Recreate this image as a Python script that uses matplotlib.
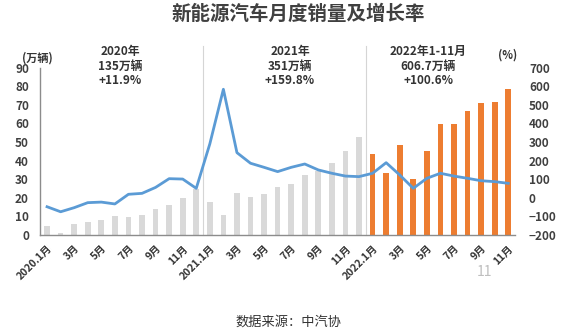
import matplotlib
matplotlib.use("Agg")
import matplotlib.pyplot as plt
import numpy as np

plt.rcParams['font.family'] = ['Noto Sans CJK SC', 'DejaVu Sans']

months = ["2020.1月", "2月", "3月", "4月", "5月", "6月", "7月", "8月", "9月", "10月", "11月", "12月",
          "2021.1月", "2月", "3月", "4月", "5月", "6月", "7月", "8月", "9月", "10月", "11月", "12月",
          "2022.1月", "2月", "3月", "4月", "5月", "6月", "7月", "8月", "9月", "10月", "11月"]
sales = [5.0, 1.0, 6.0, 7.2, 8.2, 10.4, 9.8, 10.9, 14.0, 16.1, 20.0, 24.5,
         17.6, 10.8, 22.7, 20.6, 21.8, 25.6, 27.2, 32.2, 34.5, 38.5, 45.2, 52.9,
         43.4, 33.5, 48.6, 30.2, 45.1, 59.8, 59.8, 66.8, 71.0, 71.6, 78.7]
growth = [-48, -75, -53, -26, -23, -33, 19, 24, 56, 103, 101, 51,
          290, 584, 243, 186, 164, 141, 164, 182, 150, 132, 117, 114,
          132, 189, 123, 51, 105, 132, 117, 105, 92, 87, 78]
year_notes = ["2020年\n135万辆\n+11.9%", "2021年\n351万辆\n+159.8%", "2022年1-11月\n606.7万辆\n+100.6%"]
title = "新能源汽车月度销量及增长率"
source = "数据来源：中汽协"

W, H = 565, 330
fig = plt.figure(figsize=(W / 100, H / 100), dpi=100)
ax = fig.add_axes([40 / W, 1 - 235 / H, 475 / W, 167.3 / H])
ax2 = ax.twinx()

x = np.arange(len(sales))
colors = ['#d9d9d9'] * 24 + ['#ed7d31'] * (len(sales) - 24)
ax.bar(x, sales, width=0.42, color=colors, zorder=2)
ax2.plot(x, growth, color='#5b9bd5', lw=2.0, zorder=3)

ax.set_xlim(-0.52, 34.5)
ax.set_ylim(0, 90)
ax2.set_ylim(-200, 700)
ax.set_yticks(np.arange(0, 91, 10))
ax2.set_yticks(np.arange(-200, 701, 100))

tc = '#404040'
ax.tick_params(axis='y', length=0, pad=8, labelsize=8.5, labelcolor=tc)
ax2.tick_params(axis='y', length=0, pad=10, labelsize=8.5, labelcolor=tc)
for lbl in ax.get_yticklabels() + ax2.get_yticklabels():
    lbl.set_fontweight('bold')

ticks = x[::2]
ax.set_xticks(ticks)
ax.set_xticklabels([months[i] for i in ticks], rotation=45, ha='right', va='top',
                   rotation_mode='anchor', fontsize=7.5, fontweight='bold', color='#333333')
ax.tick_params(axis='x', length=0, pad=6)

for a in (ax, ax2):
    for s in ('top', 'right'):
        a.spines[s].set_visible(False)
    a.spines['left'].set_visible(False)
    a.spines['bottom'].set_visible(False)
ax.spines['left'].set_visible(True)
ax.spines['left'].set_color('#8c8c8c')
ax.spines['left'].set_linewidth(1.0)
ax.spines['bottom'].set_visible(True)
ax.spines['bottom'].set_color('#8c8c8c')
ax.spines['bottom'].set_linewidth(1.0)

for xs in (11.5, 23.5):
    ax.axvline(xs, ymin=0, ymax=1.13, color='#d5d5d5', lw=0.8, clip_on=False, zorder=1)

fig.text(298 / W, 1 - 14 / H, title, ha='center', va='center', fontsize=14,
         fontweight='bold', color='#404040')

note_x = [120, 290, 428]
for nx, note in zip(note_x, year_notes):
    fig.text(nx / W, 1 - 66 / H, note, ha='center', va='center', fontsize=8.5,
             fontweight='bold', color='#333333', linespacing=1.15)

fig.text(37 / W, 1 - 58 / H, "(万辆)", ha='center', va='center', fontsize=8,
         fontweight='bold', color='#333333')
fig.text(508 / W, 1 - 55 / H, "(%)", ha='center', va='center', fontsize=8,
         fontweight='bold', color='#333333')
fig.text(484 / W, 1 - 272 / H, "11", ha='center', va='center', fontsize=10,
         color='#bfbfbf')
fig.text(288 / W, 1 - 322 / H, source, ha='center', va='center', fontsize=9.5,
         color='#333333')

fig.savefig("out.png", dpi=100)
